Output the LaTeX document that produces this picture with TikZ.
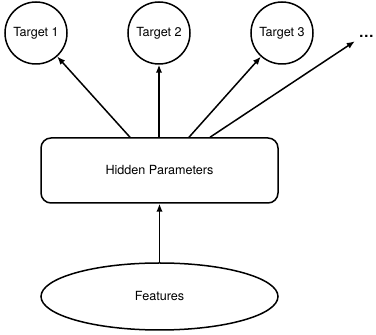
\documentclass[tikz,border=0pt]{standalone}
\usepackage{fontspec}
\setmainfont{TeX Gyre Heros}
\usetikzlibrary{arrows.meta,shapes.geometric,calc}
\tikzstyle{target}=[draw,circle,line width=1.5pt,minimum size=62pt,inner sep=0pt]
\tikzstyle{link}=[->,>={Latex[length=8pt,width=6.5pt]},line width=1.5pt]
\newcommand{\labelfont}{\fontsize{12.6}{14}\selectfont}

\begin{document}
\begin{tikzpicture}[x=1pt,y=1pt,font=\labelfont]
\useasboundingbox (0,0) rectangle (376,335);
% outputs
\foreach \i/\x in {1/36,2/159,3/282} {
	\node[target] (t\i) at (\x,302) {Target \i};
}
\node[inner sep=4pt,font=\fontsize{15}{15}\selectfont\bfseries] (dots) at (366.5,299) {\dots};
% middle and input
\node[draw,rounded corners=10pt,line width=1.5pt,minimum width=237pt,minimum height=65pt,inner sep=0pt] (hidden) at (159.5,164.5) {Hidden Parameters};
\node[draw,ellipse,line width=1.5pt,minimum width=237pt,minimum height=67pt,inner sep=0pt] (features) at (159.5,38.5) {Features};
\draw[link] ($(hidden.north)+(-29.5,0)$) -- (t1);
\draw[link] (hidden.north -| t2) -- (t2);
\draw[link] ($(hidden.north)+(29.5,0)$) -- (t3);
\draw[link] ($(hidden.north)+(50.5,0)$) -- (dots.south west);
\draw[link] (features) -- (hidden);
\end{tikzpicture}
\end{document}
